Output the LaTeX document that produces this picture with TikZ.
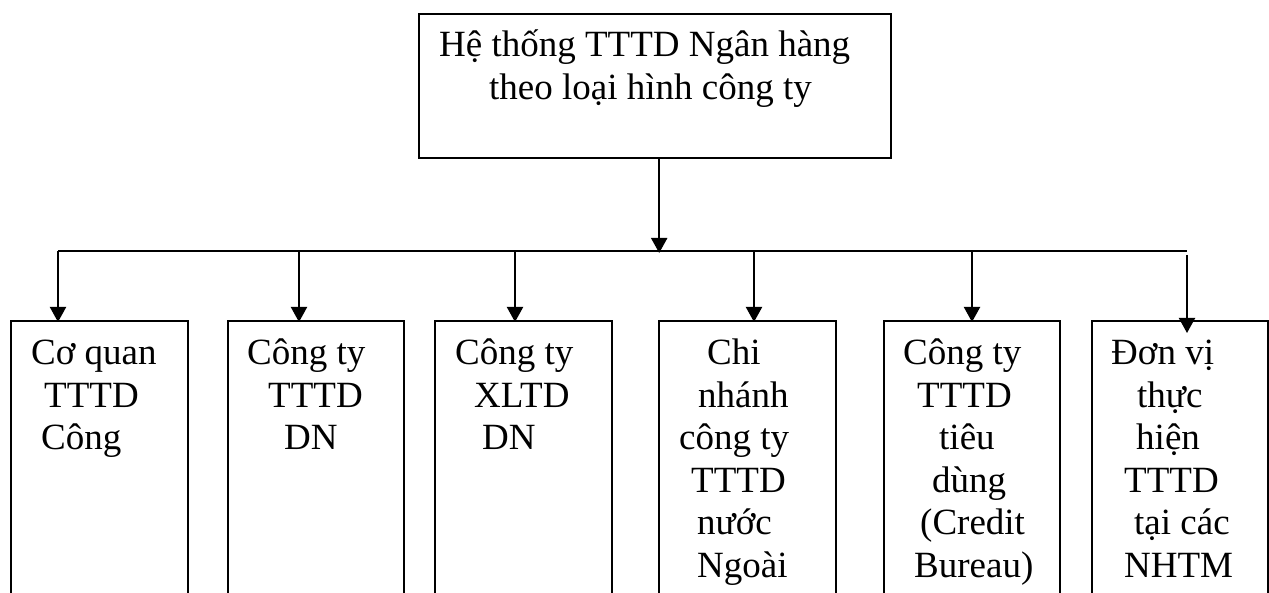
\documentclass[tikz,border=0pt]{standalone}
\usepackage{fontspec}
\setmainfont{Liberation Serif}
\usetikzlibrary{arrows.meta}
\begin{document}
\begin{tikzpicture}[x=1pt,y=-1pt,
  frame/.style={draw, line width=2.4pt, rectangle, inner sep=0pt, anchor=north west},
  bus/.style={line width=2pt},
  link/.style={line width=2pt, -{Triangle[length=15pt,width=16pt]}},
  lbl/.style={inner sep=0pt, anchor=base west, font=\fontsize{37}{43}\selectfont}]
\useasboundingbox (0,0) rectangle (1269,593);
\fill[white] (0,0) rectangle (1269,593);
\begin{scope}
\clip (0,0) rectangle (1269,593);

% root box
\node[frame, minimum width=472pt, minimum height=144pt] (root) at (418,13) {};

% category boxes (they run past the lower edge)
\node[frame, minimum width=177pt, minimum height=400pt] (b1) at (10,320) {};
\node[frame, minimum width=176pt, minimum height=400pt] (b2) at (227,320) {};
\node[frame, minimum width=177pt, minimum height=400pt] (b3) at (434,320) {};
\node[frame, minimum width=177pt, minimum height=400pt] (b4) at (658,320) {};
\node[frame, minimum width=176pt, minimum height=400pt] (b5) at (883,320) {};
\node[frame, minimum width=176pt, minimum height=400pt] (b6) at (1091,320) {};

% distribution bus
\coordinate (busL) at (58,251);
\coordinate (busR) at (1187,251);
\draw[bus] (busL) -- (busR);
\draw[link] ([xshift=4pt]root.south) -- ([xshift=4pt,yshift=-2pt]root.south |- busL);

\coordinate (t1) at (58,251);
\coordinate (t2) at (299,251);
\coordinate (t3) at (515,251);
\coordinate (t4) at (754,251);
\coordinate (t5) at (972,251);
\coordinate (t6) at (1187,255);
\draw[link] (t1) -- ([yshift=-2pt]t1 |- b1.north);
\draw[link] (t2) -- ([yshift=-2pt]t2 |- b2.north);
\draw[link] (t3) -- ([yshift=-2pt]t3 |- b3.north);
\draw[link] (t4) -- ([yshift=-2pt]t4 |- b4.north);
\draw[link] (t5) -- ([yshift=-2pt]t5 |- b5.north);
\draw[link] (t6) -- ([yshift=-13pt]t6 |- b6.north);

% root text
\node[lbl] (r1) at (439,57) {Hệ thống TTTD Ngân hàng};
\node[lbl] (r2) at (489,100) {theo loại hình công ty};

% box texts, one line each
\foreach \x/\y/\t [count=\i] in {
  31/365/Cơ quan, 44/407.4/TTTD, 41/449.8/Công,
  247/365/Công ty, 268/407.4/TTTD, 284/449.8/DN,
  455/365/Công ty, 474/407.4/XLTD, 482/449.8/DN,
  707/365/Chi, 698/407.4/nhánh, 679/449.8/công ty, 691/492.2/TTTD, 697/534.6/nước, 697/577/Ngoài,
  903/365/Công ty, 917/407.4/TTTD, 939/449.8/tiêu, 932/492.2/dùng, 920/534.6/(Credit, 914/577/Bureau),
  1111/365/Đơn vị, 1137/407.4/thực, 1136/449.8/hiện, 1124/492.2/TTTD, 1134/534.6/tại các, 1124/577/NHTM}
  \node[lbl] (w\i) at (\x,\y) {\t};
\end{scope}
\end{tikzpicture}
\end{document}
